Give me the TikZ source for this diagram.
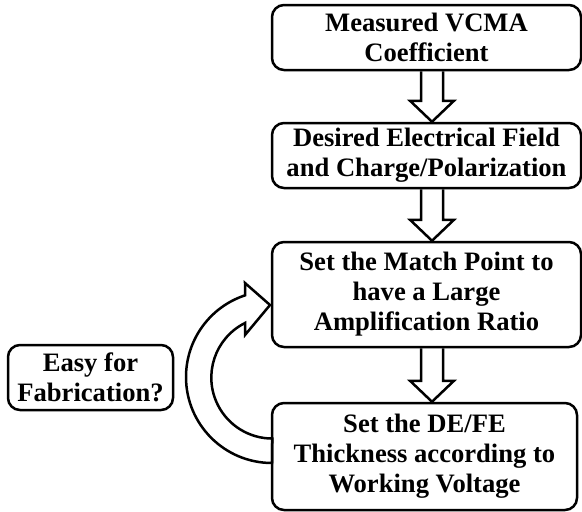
\documentclass[tikz,border=0pt]{standalone}
\usepackage{fontspec}
\setmainfont{Liberation Serif}
\usetikzlibrary{calc, positioning}

\tikzset{
    flowbox/.style={draw, line width=2.5pt, rounded corners=12pt, inner sep=0pt,
        align=center, font=\bfseries\fontsize{26.6}{30}\selectfont},
    blockarrow/.style={draw, line width=2.5pt, line join=miter},
    loopline/.style={draw, line width=2.5pt, line join=miter}
}

\newcommand{\flowarrow}[2]{%
    \draw[blockarrow] let \p1=(#1.south), \p2=(#2.north) in
        (\x1-5.5pt,\y1) -- (\x1-5.5pt,\y2+21pt) -- (\x1-16.5pt,\y2+21pt) -- (\x1+5.5pt,\y2)
        -- (\x1+27.5pt,\y2+21pt) -- (\x1+16.5pt,\y2+21pt) -- (\x1+16.5pt,\y1);}

\begin{document}
\begin{tikzpicture}[x=1pt,y=1pt]
                \useasboundingbox (0,0) rectangle (582,-512);
                \node[flowbox, minimum width=309pt, minimum height=65pt] (b1) at (426.5,-37.5) {Measured VCMA\\Coefficient};
                \node[flowbox, minimum width=309pt, minimum height=65pt] (b2) at (426.5,-155.5) {Desired Electrical Field\\and Charge/Polarization};
                \node[flowbox, minimum width=309pt, minimum height=105pt] (b3) at (426.5,-294.5) {Set the Match Point to\\have a Large\\Amplification Ratio};
                \node[flowbox, minimum width=305pt, minimum height=107pt] (b4) at (424.5,-456.5) {Set the DE/FE\\Thickness according to\\Working Voltage};
                \node[flowbox, minimum width=165pt, minimum height=65pt] (ask) at (90.5,-377.5) {Easy for\\Fabrication?};
                \foreach \a/\b in {b1/b2, b2/b3, b3/b4}{
                    \flowarrow{\a}{\b}
                }
                % feedback loop
                \draw[loopline] (272,-463) arc[start angle=270, end angle=108.2, radius=86]
                    -- (245,-283) -- (270,-305) -- (245,-335) -- (245,-323)
                    arc[start angle=116.6, end angle=270, radius=61] -- cycle;
\end{tikzpicture}
\end{document}
